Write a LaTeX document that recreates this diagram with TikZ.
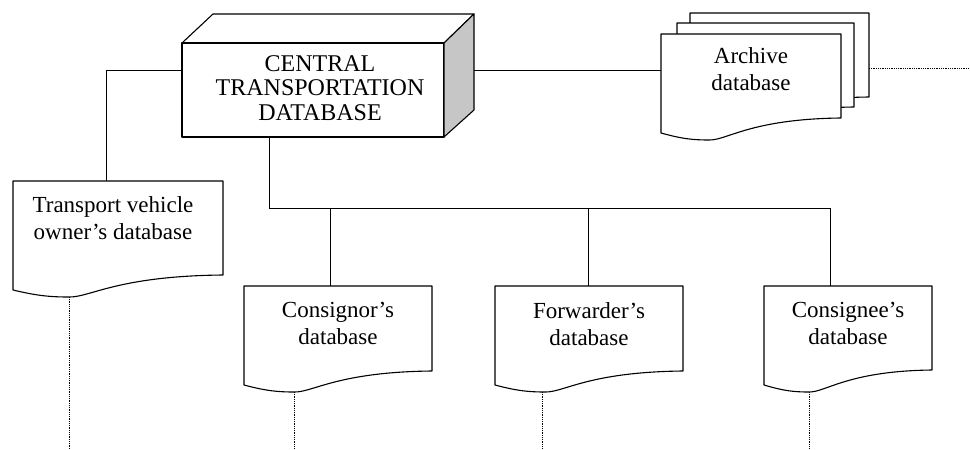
\documentclass[tikz,border=0pt]{standalone}
\usepackage{fontspec}
\setmainfont{Liberation Serif}

% Outline of a "document" sheet: flat top, wavy bottom edge.
% #1 node name, #2 width, #3 left edge height, #4 right edge height
\newcommand\sheetoutline[4]{%
  \begin{scope}[shift={(#1.north west)}]
    \draw[outline, fill=white] (0,0) -- (#2,0) -- (#2,#4)
      .. controls ({0.5*#2},{#4+1}) and ({0.37*#2},{#3+7}) .. ({0.27*#2},{#3+7})
      .. controls ({0.18*#2},{#3+7}) and ({0.12*#2},{#3+6}) .. (0,#3) -- cycle;
    \coordinate (#1-dip) at ({0.27*#2},{#3+7});
  \end{scope}}

\begin{document}
\begin{tikzpicture}[x=1pt, y=-1pt,
  outline/.style={line width=1.1pt, line join=round},
  wire/.style={line width=1pt},
  trail/.style={line width=0.7pt, dash pattern=on 0.7pt off 1.1pt},
  docbox/.style={anchor=north west, inner sep=0pt, outer sep=0pt},
  lbl/.style={align=center, inner sep=0pt, font=\fontsize{23}{27}\selectfont}]

\useasboundingbox (0,0) rectangle (970,450);

\coordinate (busy) at (0,208);
\coordinate (floor) at (0,450);
\coordinate (edge) at (970,0);

% central database block
\node[outline, draw, fill=white, minimum width=262, minimum height=94, inner sep=0pt, outer sep=0pt] (ctd) at (313,90) {};
\draw[outline] (ctd.north west) -- ++(31,-29) -- ++(261,0) -- (ctd.north east);
\draw[outline, fill=gray!45] (ctd.north east) -- ++(30,-29) -- ++(0,96) -- (ctd.south east) -- cycle;
\node[lbl, font=\fontsize{24}{24.5}\selectfont] (ctd-t) at ([xshift=7pt, yshift=2pt]ctd.center)
  {CENTRAL\\TRANSPORTATION\\DATABASE};
\coordinate (ctd-r) at ([shift={(30,-20)}]ctd.east);

% archive: stack of three sheets
\node[docbox, minimum width=179, minimum height=99] (arch3) at (690,13) {};
\node[docbox, minimum width=177, minimum height=99] (arch2) at (677,23) {};
\node[docbox, minimum width=180, minimum height=99] (arch) at (661,34) {};
\sheetoutline{arch3}{179}{99}{84}
\sheetoutline{arch2}{177}{99}{84}
\sheetoutline{arch}{180}{99}{84}
\node[lbl, anchor=north] (arch-t) at ([shift={(0,13)}]arch.north) {Archive\\database};

% participant databases
\node[docbox, minimum width=210, minimum height=109] (tvo) at (13,181) {};
\node[docbox, minimum width=188, minimum height=99] (cnor) at (244,286) {};
\node[docbox, minimum width=188, minimum height=99] (fwd) at (495,286) {};
\node[docbox, minimum width=168, minimum height=99] (cnee) at (764,286) {};
\sheetoutline{tvo}{210}{109}{94}
\sheetoutline{cnor}{188}{99}{85}
\sheetoutline{fwd}{188}{99}{85}
\sheetoutline{cnee}{168}{99}{84}
\node[lbl, anchor=north] (tvo-t) at ([shift={(-5,15)}]tvo.north) {Transport vehicle\\owner's database};
\node[lbl, anchor=north] (cnor-t) at ([shift={(0,16)}]cnor.north) {Consignor's\\database};
\node[lbl, anchor=north] (fwd-t) at ([shift={(0,16)}]fwd.north) {Forwarder's\\database};
\node[lbl, anchor=north] (cnee-t) at ([shift={(0,16)}]cnee.north) {Consignee's\\database};

% links from the central block
\draw[wire] ([shift={(0,-20)}]ctd.west) -| ([xshift=-12pt]tvo.north);
\draw[wire] (ctd-r) -- (ctd-r -| arch.west);

\path ([xshift=-44pt]ctd.south) coordinate (drop)
      ([xshift=-8pt]cnor.north) coordinate (cnor-in)
      ([xshift=-1pt]fwd.north) coordinate (fwd-in)
      ([xshift=-18pt]cnee.north) coordinate (cnee-in);
\draw[wire] (drop) |- (cnee-in |- busy) -- (cnee-in);
\draw[wire] (cnor-in |- busy) -- (cnor-in);
\draw[wire] (fwd-in |- busy) -- (fwd-in);

% dotted continuations
\draw[trail] (tvo-dip) -- (tvo-dip |- floor);
\draw[trail] (cnor-dip) -- (cnor-dip |- floor);
\draw[trail] ([xshift=-3pt]fwd-dip) -- ([xshift=-3pt]fwd-dip |- floor);
\draw[trail] (cnee-dip) -- (cnee-dip |- floor);
\draw[trail] ([yshift=2pt]arch3.east |- ctd-r) -- ([yshift=2pt]edge |- ctd-r);

\end{tikzpicture}
\end{document}
